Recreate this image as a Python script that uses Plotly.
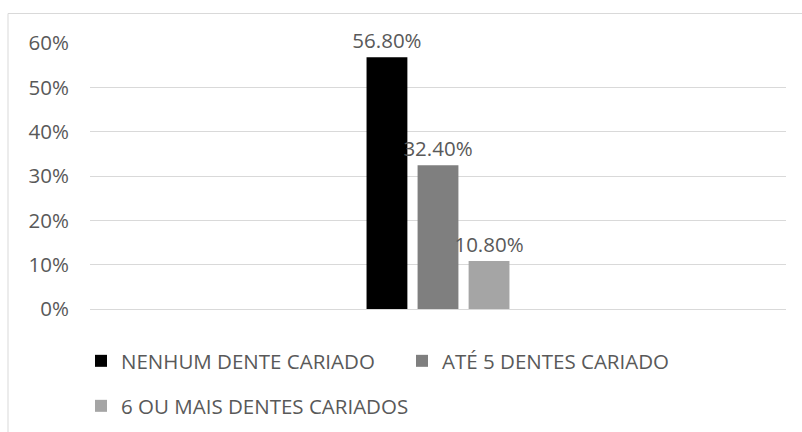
import plotly.graph_objects as go

categories = ["Total"]
series_names = ["NENHUM DENTE CARIADO", "ATÉ 5 DENTES CARIADO", "6 OU MAIS DENTES CARIADOS"]
series_values = [0.568, 0.324, 0.108]
series_colors = ["#000000", "#7f7f7f", "#a5a5a5"]
series_legends = ["legend", "legend", "legend2"]
tick_values = [0, 0.1, 0.2, 0.3, 0.4, 0.5, 0.6]
tick_labels = ["0%", "10%", "20%", "30%", "40%", "50%", "60%"]

FONT = "Open Sans"
TXT = "#595959"

fig = go.Figure()
for name, val, col, lg in zip(series_names, series_values, series_colors, series_legends):
    fig.add_trace(go.Bar(
        x=categories, y=[val], name=name,
        marker=dict(color=col, line=dict(width=0)),
        text=[f"{val*100:.2f}%"], textposition="outside",
        textfont=dict(family=FONT, size=20.5, color=TXT),
        constraintext="none", cliponaxis=False,
        legend=lg, hoverinfo="skip",
    ))

W, H = 802, 432
L, R, T, B = 90, 16, 43, 123
pw, ph = W - L - R, H - T - B

def px_x(p):
    return (p - L) / pw

def px_y(p):
    return (H - B - p) / ph

fig.update_layout(
    width=W, height=H,
    margin=dict(l=L, r=R, t=T, b=B, pad=0, autoexpand=False),
    paper_bgcolor="white", plot_bgcolor="white",
    barmode="group", bargap=0.78, bargroupgap=0.2,
    font=dict(family=FONT, size=20.5, color=TXT),
    showlegend=True,
    legend=dict(orientation="h", x=px_x(81), y=px_y(341), xanchor="left", yanchor="top",
                entrywidth=276, entrywidthmode="pixels",
                font=dict(family=FONT, size=20.5, color=TXT), bgcolor="rgba(0,0,0,0)",
                traceorder="normal"),
    legend2=dict(orientation="h", x=px_x(81), y=px_y(386), xanchor="left", yanchor="top",
                 font=dict(family=FONT, size=20.5, color=TXT), bgcolor="rgba(0,0,0,0)"),
    xaxis=dict(showticklabels=False, showgrid=False, zeroline=False, showline=False, ticks=""),
    yaxis=dict(range=[0, 0.6], tickvals=tick_values, ticktext=tick_labels,
               showgrid=True, gridcolor="#d9d9d9", gridwidth=1,
               zeroline=True, zerolinecolor="#d9d9d9", zerolinewidth=1,
               showline=False, ticks="", ticklabelstandoff=20,
               tickfont=dict(family=FONT, size=20.5, color=TXT)),
    shapes=[dict(type="rect", xref="paper", yref="paper",
                 x0=px_x(8), x1=px_x(806), y0=px_y(436), y1=px_y(13.5),
                 line=dict(color="#d9d9d9", width=1), fillcolor="rgba(0,0,0,0)", layer="below")],
)

fig.write_html("out.html")
